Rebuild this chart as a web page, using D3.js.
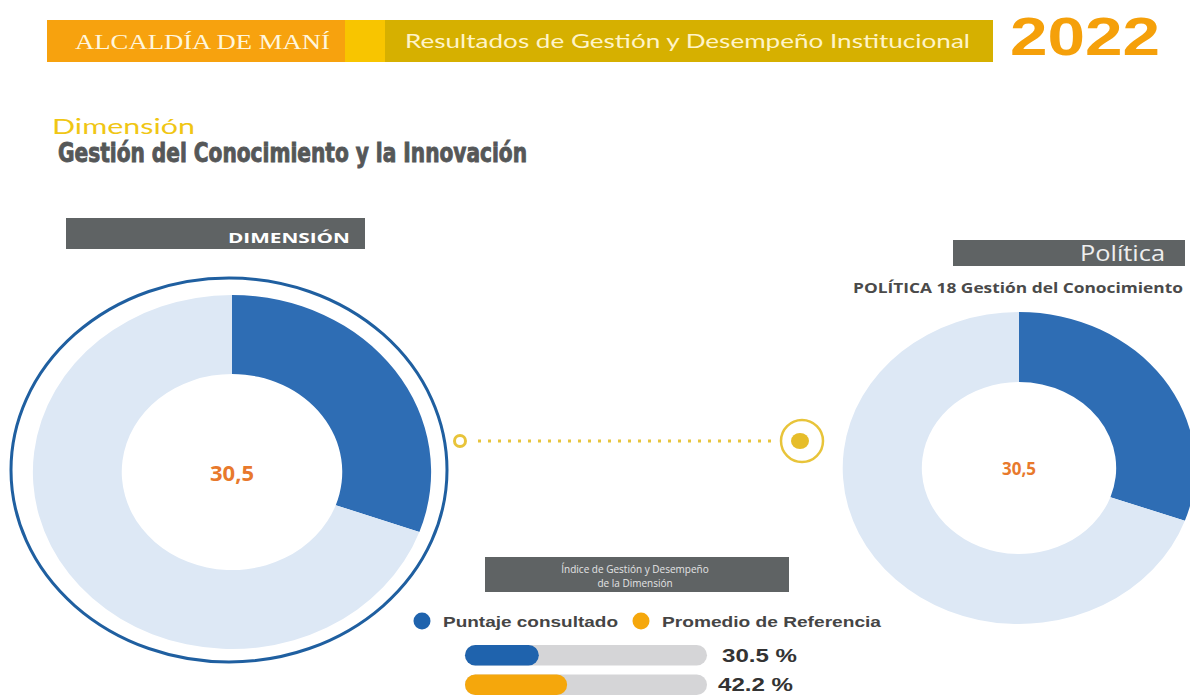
<!DOCTYPE html>
<html lang="es">
<head>
<meta charset="utf-8">
<title>Alcaldía de Maní 2022 – Gestión del Conocimiento y la Innovación</title>
<script src="https://cdn.jsdelivr.net/npm/d3@7"></script>
<style>
  html, body { margin: 0; padding: 0; background: #ffffff; }
  svg { display: block; }
</style>
</head>
<body>
<svg id="chart" width="1190" height="696"></svg>
<script>
// ---- Data ----
const year = "2022";
const entity = "ALCALDÍA DE MANÍ";
const reportTitle = "Resultados de Gestión y Desempeño Institucional";
const dimensionName = "Gestión del Conocimiento y la Innovación";
const policyName = "POLÍTICA 18 Gestión del Conocimiento";

// Donut scores (out of 100)
const dimensionScore = [30.5];
const policyScore = [30.5];

// Comparison bars
const seriesNames = ["Puntaje consultado", "Promedio de Referencia"];
const seriesValues = [30.5, 42.2];
const seriesColors = ["#1f63ad", "#f5a70c"];

const svg = d3.select("#chart");

// ---- Header band ----
const header = svg.append("g");
header.append("rect").attr("x", 47).attr("y", 20).attr("width", 298).attr("height", 42).attr("fill", "#f7a20e");
header.append("rect").attr("x", 345).attr("y", 20).attr("width", 40).attr("height", 42).attr("fill", "#f8c500");
header.append("rect").attr("x", 385).attr("y", 20).attr("width", 608).attr("height", 42).attr("fill", "#d6b000");
header.append("text")
  .attr("x", 75).attr("y", 49)
  .attr("font-family", "Liberation Serif, DejaVu Serif, serif")
  .attr("font-size", 22)
  .attr("fill", "#fff6dc")
  .attr("textLength", 255).attr("lengthAdjust", "spacingAndGlyphs")
  .text(entity);
header.append("text")
  .attr("x", 405).attr("y", 48)
  .attr("font-family", "Lato, 'Noto Sans', sans-serif")
  .attr("font-size", 19)
  .attr("fill", "#fff4c8")
  .attr("textLength", 565).attr("lengthAdjust", "spacingAndGlyphs")
  .text(reportTitle);
header.append("text")
  .attr("x", 1010).attr("y", 55)
  .attr("font-family", "Liberation Sans, Arial, sans-serif")
  .attr("font-weight", "bold")
  .attr("font-size", 54)
  .attr("fill", "#f5a00a")
  .attr("textLength", 150).attr("lengthAdjust", "spacingAndGlyphs")
  .text(year);

// ---- Section titles ----
svg.append("text")
  .attr("x", 52).attr("y", 134)
  .attr("font-family", "Lato, 'Open Sans', sans-serif")
  .attr("font-size", 22)
  .attr("fill", "#f0c614")
  .attr("textLength", 143).attr("lengthAdjust", "spacingAndGlyphs")
  .text("Dimensión");
svg.append("text")
  .attr("x", 58).attr("y", 162)
  .attr("font-family", "'DejaVu Sans Condensed', 'Liberation Sans Narrow', sans-serif")
  .attr("font-weight", "bold")
  .attr("font-size", 27)
  .attr("fill", "#555758")
  .attr("stroke", "#555758").attr("stroke-width", 0.9)
  .attr("textLength", 469).attr("lengthAdjust", "spacingAndGlyphs")
  .text(dimensionName);

// Dimension label bar
svg.append("rect").attr("x", 66).attr("y", 218).attr("width", 299).attr("height", 31).attr("fill", "#5f6364");
svg.append("text")
  .attr("x", 228).attr("y", 243)
  .attr("font-family", "'Open Sans', sans-serif")
  .attr("font-weight", "bold")
  .attr("font-size", 15)
  .attr("fill", "#ffffff")
  .attr("textLength", 122).attr("lengthAdjust", "spacingAndGlyphs")
  .text("DIMENSIÓN");

// Policy label bar
svg.append("rect").attr("x", 953).attr("y", 240).attr("width", 232).attr("height", 26).attr("fill", "#5f6364");
svg.append("text")
  .attr("x", 1080).attr("y", 261)
  .attr("font-family", "'Open Sans', sans-serif")
  .attr("font-size", 21)
  .attr("fill", "#eeeeee")
  .attr("textLength", 85).attr("lengthAdjust", "spacingAndGlyphs")
  .text("Política");
svg.append("text")
  .attr("x", 853).attr("y", 293)
  .attr("font-family", "'Open Sans', sans-serif")
  .attr("font-weight", "bold")
  .attr("font-size", 14)
  .attr("fill", "#4a4a4a")
  .attr("textLength", 330).attr("lengthAdjust", "spacingAndGlyphs")
  .text(policyName);

// ---- Donuts ----
const pie = d3.pie().sort(null).value(d => d);
const fmtComma = v => v.toFixed(1).replace(".", ",");

function donut(score, cx, cy, outer, inner, sx, fontSize) {
  const g = svg.append("g").attr("transform", `translate(${cx},${cy}) scale(${sx},1)`);
  const arc = d3.arc().innerRadius(inner).outerRadius(outer);
  g.selectAll("path")
    .data(pie([score, 100 - score]))
    .join("path")
    .attr("d", arc)
    .attr("fill", (d, i) => i === 0 ? "#2e6db4" : "#dde8f5");
  svg.append("text")
    .attr("x", cx).attr("y", cy)
    .attr("text-anchor", "middle")
    .attr("dominant-baseline", "central")
    .attr("font-family", "'Open Sans', sans-serif")
    .attr("font-weight", "bold")
    .attr("font-size", fontSize)
    .attr("fill", "#e8792c")
    .text(fmtComma(score));
}

// Outer ring around the dimension donut
svg.append("ellipse")
  .attr("cx", 229).attr("cy", 470).attr("rx", 218).attr("ry", 192)
  .attr("fill", "none").attr("stroke", "#1f5fa0").attr("stroke-width", 3);

donut(dimensionScore[0], 232, 472, 177, 98, 1.125, 22);
donut(policyScore[0], 1019, 468, 156, 86, 1.13, 17);

// ---- Connector between donuts ----
const conn = svg.append("g");
conn.append("line")
  .attr("x1", 478).attr("y1", 441).attr("x2", 778).attr("y2", 441)
  .attr("stroke", "#e8c43a").attr("stroke-width", 3)
  .attr("stroke-dasharray", "3 7");
conn.append("circle").attr("cx", 460).attr("cy", 441).attr("r", 5.5)
  .attr("fill", "#ffffff").attr("stroke", "#e8c43a").attr("stroke-width", 3);
conn.append("circle").attr("cx", 802).attr("cy", 441).attr("r", 21)
  .attr("fill", "none").attr("stroke", "#e8c43a").attr("stroke-width", 2.5);
conn.append("ellipse").attr("cx", 800).attr("cy", 441).attr("rx", 9).attr("ry", 8)
  .attr("fill", "#e6bd2a");

// ---- Index panel ----
svg.append("rect").attr("x", 485).attr("y", 557).attr("width", 304).attr("height", 35).attr("fill", "#5f6364");
svg.append("text")
  .attr("x", 635).attr("y", 573)
  .attr("text-anchor", "middle")
  .attr("font-family", "'Open Sans', sans-serif")
  .attr("font-size", 10)
  .attr("fill", "#e4e4e4")
  .text("Índice de Gestión y Desempeño");
svg.append("text")
  .attr("x", 635).attr("y", 587)
  .attr("text-anchor", "middle")
  .attr("font-family", "'Open Sans', sans-serif")
  .attr("font-size", 10)
  .attr("fill", "#e4e4e4")
  .text("de la Dimensión");

// Legend
const legendX = [422, 641];
const legendTextLen = [175, 219];
const legend = svg.append("g");
seriesNames.forEach((name, i) => {
  legend.append("circle").attr("cx", legendX[i]).attr("cy", 621).attr("r", 8.5).attr("fill", seriesColors[i]);
  legend.append("text")
    .attr("x", legendX[i] + 21).attr("y", 627)
    .attr("font-family", "'Liberation Sans', Arial, sans-serif")
    .attr("font-weight", "bold")
    .attr("font-size", 15)
    .attr("fill", "#454545")
    .attr("textLength", legendTextLen[i]).attr("lengthAdjust", "spacingAndGlyphs")
    .text(name);
});

// Horizontal progress bars
const x = d3.scaleLinear().domain([0, 100]).range([0, 242]);
const y = d3.scaleBand().domain(seriesNames).range([645, 695]).paddingInner(0.3);
const bars = svg.append("g").attr("transform", "translate(465,0)");
bars.selectAll("rect.track")
  .data(seriesNames)
  .join("rect")
  .attr("class", "track")
  .attr("x", 0).attr("y", d => y(d))
  .attr("width", x(100)).attr("height", y.bandwidth())
  .attr("rx", y.bandwidth() / 2)
  .attr("fill", "#d5d5d7");
bars.selectAll("rect.fill")
  .data(seriesValues)
  .join("rect")
  .attr("class", "fill")
  .attr("x", 0).attr("y", (d, i) => y(seriesNames[i]))
  .attr("width", d => x(d)).attr("height", y.bandwidth())
  .attr("rx", y.bandwidth() / 2)
  .attr("fill", (d, i) => seriesColors[i]);
bars.selectAll("text")
  .data(seriesValues)
  .join("text")
  .attr("x", (d, i) => i === 0 ? 257 : 253)
  .attr("y", (d, i) => y(seriesNames[i]) + y.bandwidth() / 2)
  .attr("dominant-baseline", "central")
  .attr("font-family", "'Liberation Sans', Arial, sans-serif")
  .attr("font-weight", "bold")
  .attr("font-size", 19)
  .attr("fill", "#333333")
  .attr("textLength", 75).attr("lengthAdjust", "spacingAndGlyphs")
  .text(d => `${d.toFixed(1)} %`);
</script>
</body>
</html>
